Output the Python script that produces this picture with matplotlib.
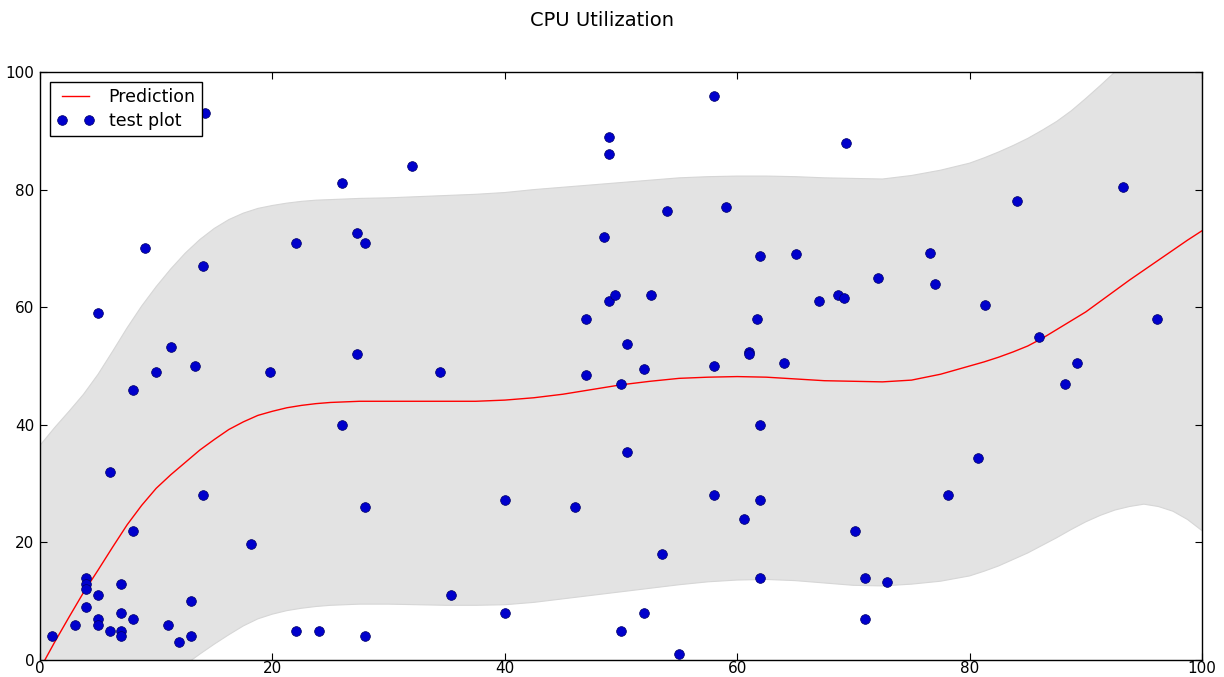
import matplotlib
matplotlib.use("Agg")
import matplotlib.pyplot as plt

# ---- data ----
test_x = [1, 3, 4, 4, 4, 4, 5, 5, 5, 5, 6, 6, 7, 7, 7, 7, 8, 8, 8, 9, 10, 11, 11.3, 12,
          13.3, 13, 13, 14.2, 14, 14, 18.2, 19.8, 22, 22, 24, 26, 26, 27.3, 27.3, 28, 28, 28,
          32, 34.4, 35.4, 40, 40, 46, 47, 47, 48.5, 49, 49, 49, 49.5, 50, 50, 50.5, 50.5,
          52, 52, 52.6, 53.5, 54, 55, 58, 58, 58, 59, 60.6, 61, 61, 61.7, 62, 62, 62, 62,
          64, 65.1, 67, 68.7, 69.2, 69.4, 70.1, 71, 71, 72.1, 72.9, 76.6, 77, 78.1, 80.7,
          81.3, 84.1, 86, 88.2, 89.2, 93.2, 96.1]
test_y = [4, 6, 14, 13, 12, 9, 59, 11, 7, 6, 32, 5, 13, 8, 5, 4, 46, 22, 7, 70, 49, 6, 53.3, 3,
          50, 10, 4, 93, 67, 28, 19.8, 49, 71, 5, 5, 81.2, 40, 72.7, 52, 71, 26, 4,
          84, 49, 11.1, 27.2, 8, 26, 58, 48.5, 72, 89, 86, 61, 62, 47, 5, 53.8, 35.4,
          49.5, 8, 62, 18, 76.4, 1, 96, 50, 28, 77, 24, 52.4, 52, 58, 68.7, 40, 27.2, 14,
          50.5, 69, 61, 62, 61.6, 88, 22, 14, 7, 65, 13.2, 69.2, 64, 28, 34.4,
          60.4, 78, 55, 47, 50.5, 80.4, 58]

grid_x = [0, 1.25, 2.5, 3.75, 5, 6.25, 7.5, 8.75, 10, 11.25, 12.5, 13.75, 15, 16.25, 17.5,
          18.75, 20, 21.25, 22.5, 23.75, 25,
          27.5, 30, 32.5, 35, 37.5, 40, 42.5, 45, 47.5, 50, 52.5, 55, 57.5, 60, 62.5, 65,
          67.5, 70, 72.5, 75, 77.5,
          80, 81.25, 82.5, 83.75, 85, 86.25, 87.5, 88.75, 90, 91.25, 92.5, 93.75, 95,
          96.25, 97.5, 98.75, 100]
prediction = [-1.5, 3, 7.3, 11.5, 15.3, 19.2, 23, 26.3, 29.2, 31.5, 33.6, 35.7, 37.5, 39.2,
              40.5, 41.6, 42.3, 42.9, 43.3, 43.6, 43.8,
              44, 44, 44, 44, 44, 44.2, 44.6, 45.2, 46, 46.8, 47.4, 47.9, 48.1, 48.2, 48.1,
              47.8, 47.5, 47.4, 47.3, 47.6, 48.6,
              50, 50.7, 51.5, 52.4, 53.4, 54.7, 56.2, 57.7, 59.2, 61, 62.8, 64.6, 66.3,
              68, 69.7, 71.4, 73]
upper = [36.5, 39.5, 42.3, 45.2, 48.6, 52.5, 56.5, 60.2, 63.5, 66.5, 69.2, 71.5, 73.4, 74.9,
         76, 76.8, 77.3, 77.7, 78, 78.2, 78.3,
         78.5, 78.6, 78.8, 79, 79.2, 79.5, 80, 80.4, 80.8, 81.2, 81.6, 82, 82.2, 82.3, 82.3,
         82.2, 82, 81.9, 81.8, 82.4, 83.3,
         84.5, 85.4, 86.4, 87.5, 88.7, 90.1, 91.6, 93.4, 95.5, 97.7, 100, 102.5, 105,
         107.7, 110.5, 113.2, 116]
lower = [-41, -34, -28, -23, -18.5, -14.5, -11, -7.8, -5, -2.8, -0.8, 1, 2.7, 4.3, 5.8, 7,
         7.8, 8.4, 8.8, 9.1, 9.3,
         9.5, 9.5, 9.4, 9.3, 9.3, 9.4, 9.8, 10.4, 11, 11.6, 12.2, 12.8, 13.3, 13.6, 13.7,
         13.5, 13.1, 12.7, 12.6, 12.9, 13.4,
         14.3, 15.1, 16, 17.1, 18.2, 19.5, 20.8, 22.2, 23.5, 24.6, 25.5, 26.1, 26.5,
         26.1, 25.3, 23.9, 22]

# ---- figure ----
fig = plt.figure(figsize=(12.24, 6.77), dpi=100)
ax = fig.add_axes([40 / 1224, 1 - 660 / 677, (1202 - 40) / 1224, (660 - 72) / 677])

ax.fill_between(grid_x, lower, upper, facecolor='#e3e3e3', edgecolor='#d6d6d6',
                linewidth=0.8, zorder=1)
ax.plot(grid_x, prediction, color='red', linewidth=1.0, label='Prediction', zorder=2)
ax.plot(test_x, test_y, 'o', color='#0000cc', markeredgecolor='#000066',
        markeredgewidth=0.5, markersize=7, label='test plot', zorder=3)

ax.set_xlim(0, 100)
ax.set_ylim(0, 100)
ax.set_xticks([0, 20, 40, 60, 80, 100])
ax.set_yticks([0, 20, 40, 60, 80, 100])
ax.tick_params(direction='in', top=True, right=True, length=5, width=0.8,
               labelsize=11)
ax.tick_params(axis='x', pad=1)
ax.tick_params(axis='y', pad=4)
for s in ax.spines.values():
    s.set_linewidth(1.0)
    s.set_color('black')

leg = ax.legend(loc='upper left', numpoints=2, fontsize=12.5, fancybox=False,
                framealpha=1, edgecolor='black', borderaxespad=0.6,
                handlelength=2.2, handletextpad=0.8, borderpad=0.35,
                labelspacing=0.3)
leg.get_frame().set_linewidth(1.0)

fig.text(602 / 1224, 1 - 20 / 677, 'CPU Utilization', ha='center', va='center',
         fontsize=14)

fig.savefig('out.png', dpi=100)
